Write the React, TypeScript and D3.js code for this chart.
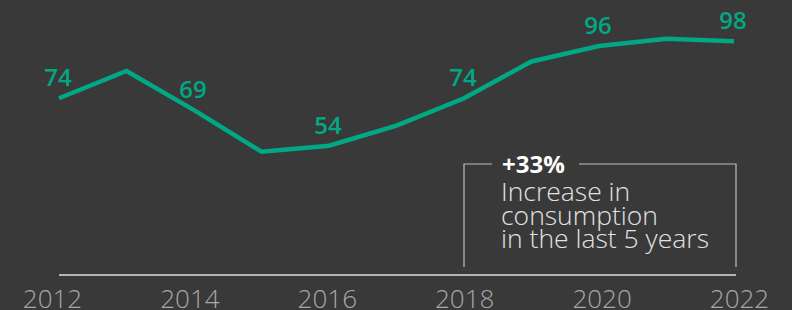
import React, { useEffect, useRef } from "react";
import * as d3 from "d3";

const years = [2012, 2013, 2014, 2015, 2016, 2017, 2018, 2019, 2020, 2021, 2022];
const consumption = [74, 85.5, 69, 51.5, 54, 62.5, 74, 89.5, 96, 99, 98];
const labelledYears = [2012, 2014, 2016, 2018, 2020, 2022];
const tickYears = [2012, 2014, 2016, 2018, 2020, 2022];
const calloutHeadline = "+33%";
const calloutLines = ["Increase in", "consumption", "in the last 5 years"];

const width = 792;
const height = 310;
const bg = "#393939";
const green = "#00a884";

export default function App() {
  const svgRef = useRef<SVGSVGElement>(null);

  useEffect(() => {
    const svg = d3.select(svgRef.current);
    svg.selectAll("*").remove();

    const x = d3.scaleLinear().domain([2012, 2022]).range([59, 734]);
    // tick labels sit on a slightly wider spread than the points
    const xLabel = d3.scaleLinear().domain([2012, 2022]).range([52.5, 739.5]);
    const y = d3.scaleLinear().domain([0, 100]).range([274, 36.5]);

    svg.append("rect").attr("width", width).attr("height", height).attr("fill", bg);

    // baseline
    svg
      .append("line")
      .attr("x1", x(2012))
      .attr("x2", 736)
      .attr("y1", y(0) + 1)
      .attr("y2", y(0) + 1)
      .attr("stroke", "#b5b5b5")
      .attr("stroke-width", 2);

    // year labels
    svg
      .selectAll(".year")
      .data(tickYears)
      .enter()
      .append("text")
      .attr("class", "year")
      .attr("x", (d) => xLabel(d))
      .attr("y", 307.5)
      .attr("text-anchor", "middle")
      .attr("font-family", "'Open Sans', sans-serif")
      .attr("font-weight", 300)
      .attr("font-size", 26)
      .attr("fill", "#a8a8a8")
      .text((d) => d);

    // line
    const pts = years.map((yr, i) => ({ yr, v: consumption[i] }));
    const line = d3
      .line<{ yr: number; v: number }>()
      .x((d) => x(d.yr))
      .y((d) => y(d.v));

    svg
      .append("path")
      .datum(pts)
      .attr("d", line)
      .attr("fill", "none")
      .attr("stroke", green)
      .attr("stroke-width", 4.5)
      .attr("stroke-linejoin", "miter");

    // value labels
    svg
      .selectAll(".val")
      .data(pts.filter((d) => labelledYears.includes(d.yr)))
      .enter()
      .append("text")
      .attr("class", "val")
      .attr("x", (d) => x(d.yr) - 1)
      .attr("y", (d) => y(d.v) - 12)
      .attr("text-anchor", "middle")
      .attr("font-family", "'Open Sans', sans-serif")
      .attr("font-weight", 600)
      .attr("font-size", 24)
      .attr("fill", green)
      .text((d) => d.v);

    // callout box
    const left = 464;
    const right = 736;
    const top = 164;
    const bottom = 267;
    const g = svg.append("g");
    g.append("path")
      .attr(
        "d",
        `M${left},${bottom}V${top}H492M579,${top}H${right}V${bottom}`
      )
      .attr("fill", "none")
      .attr("stroke", "#bdbdbd")
      .attr("stroke-width", 1.2);

    g.append("text")
      .attr("x", 502)
      .attr("y", 172.5)
      .attr("font-family", "'Open Sans', sans-serif")
      .attr("font-weight", 700)
      .attr("font-size", 24)
      .attr("fill", "#ffffff")
      .text(calloutHeadline);

    g.selectAll(".cl")
      .data(calloutLines)
      .enter()
      .append("text")
      .attr("class", "cl")
      .attr("x", 501)
      .attr("y", (_, i) => 201 + i * 23.5)
      .attr("font-family", "'Open Sans', sans-serif")
      .attr("font-weight", 300)
      .attr("font-size", 26.5)
      .attr("fill", "#e2e2e2")
      .text((d) => d);
  }, []);

  return (
    <svg
      ref={svgRef}
      width={width}
      height={height}
      style={{ position: "fixed", left: 0, top: 0, display: "block" }}
    ></svg>
  );
}
